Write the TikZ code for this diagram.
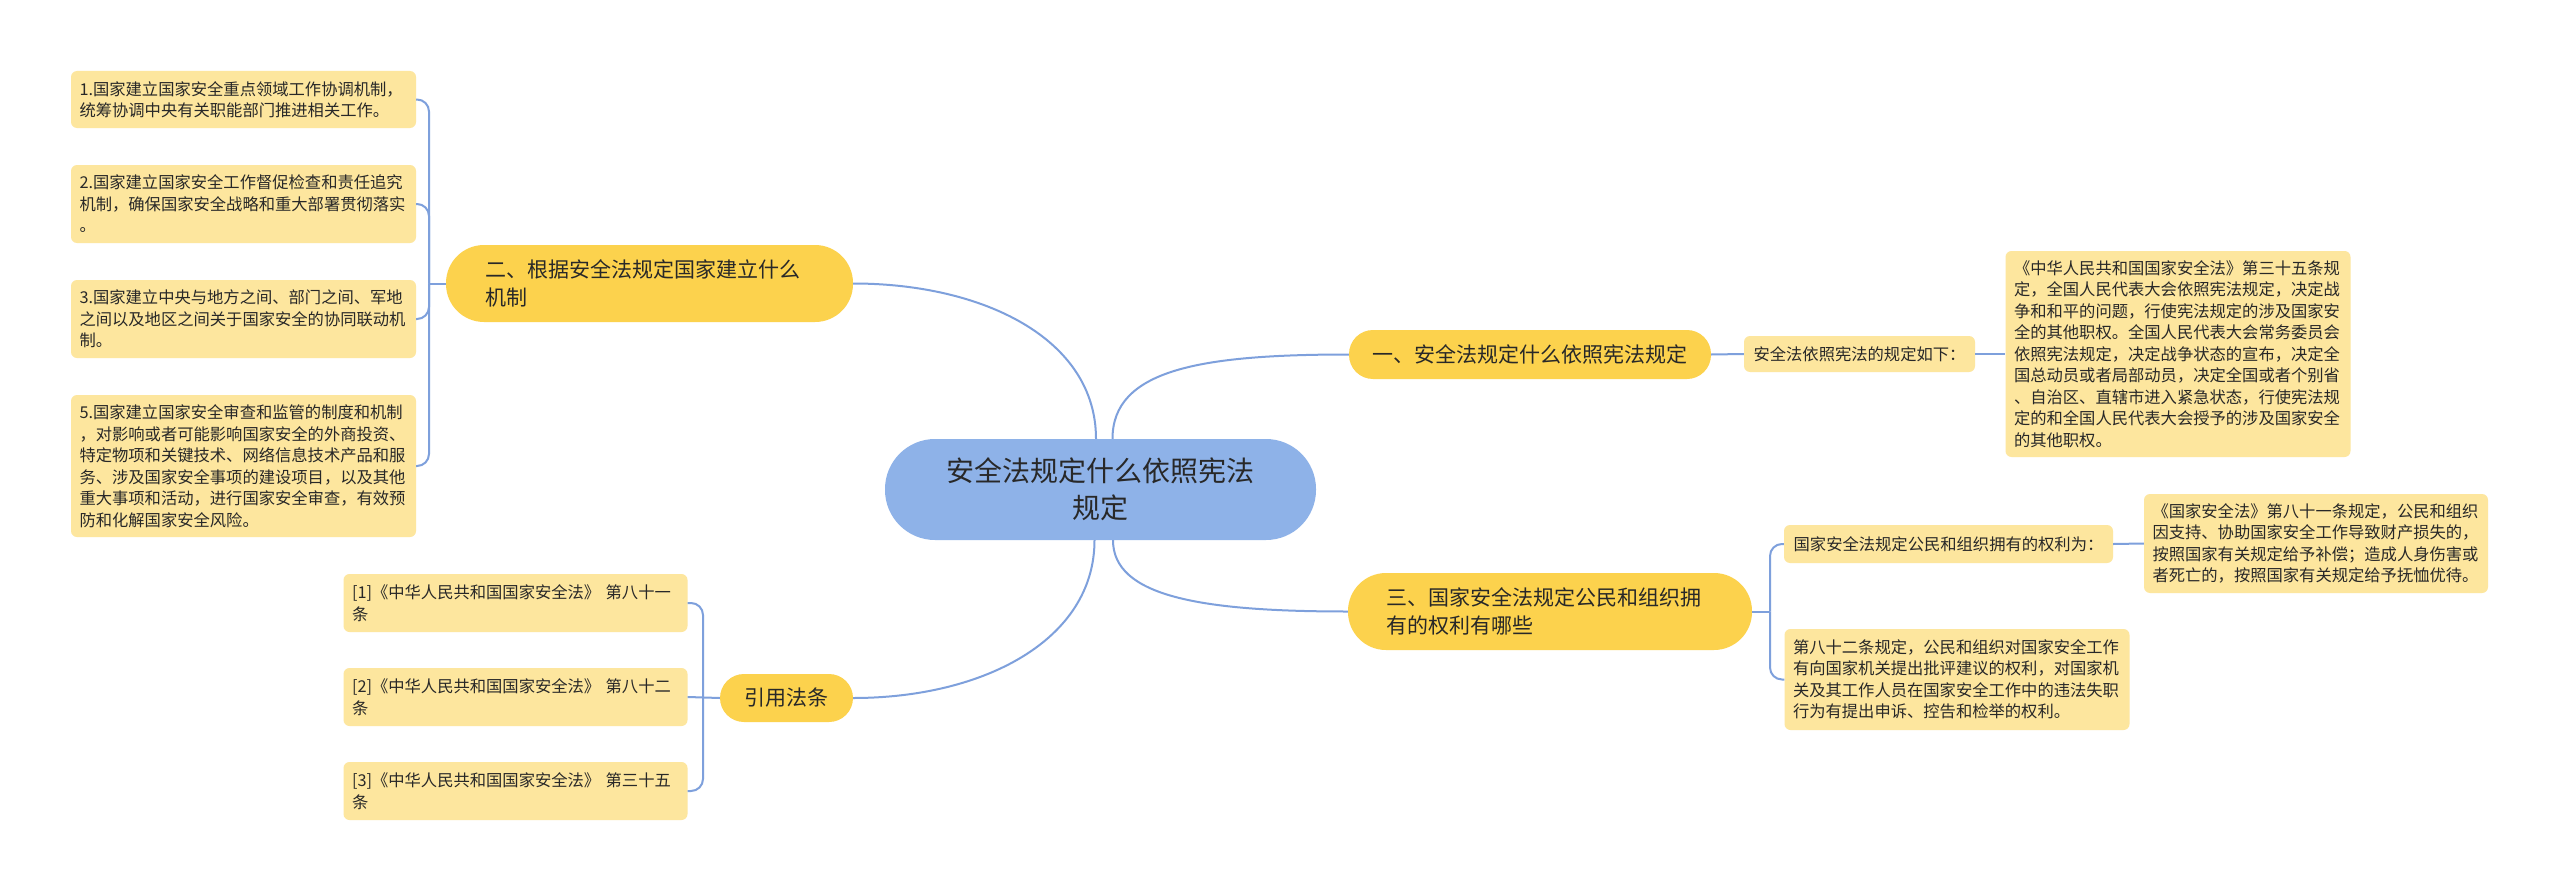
\documentclass[tikz,border=0pt]{standalone}
\usepackage{fontspec}
\setmainfont{Noto Sans CJK SC}
\usetikzlibrary{calc}
\definecolor{cfill}{RGB}{142,178,232}
\definecolor{bfill}{RGB}{252,210,77}
\definecolor{lfill}{RGB}{253,230,158}
\definecolor{lcol}{RGB}{126,160,220}
\definecolor{tcol}{RGB}{40,40,40}
\tikzset{
  conn/.style={draw=lcol, line width=2pt},
  leaf/.style={fill=lfill, rounded corners=6pt, inner xsep=8.5pt, inner ysep=0pt, align=left,
    font=\fontsize{16.3}{21.5}\selectfont, text=tcol},
  branch/.style={fill=bfill, inner ysep=0pt, text=tcol, font=\fontsize{21}{28}\selectfont},
  central/.style={fill=cfill, text=tcol, align=center, font=\fontsize{28}{37}\selectfont},
}
\begin{document}
\begin{tikzpicture}[x=1pt,y=-1pt]
\useasboundingbox (0,0) rectangle (2560,891);
\fill[white] (0,0) rectangle (2560,891);

% central
\node[central, minimum width=431, minimum height=101, rounded corners=50] (c) at (1100.5,489.5) {安全法规定什么依照宪法\\规定};

% branches
\node[branch, minimum width=362, minimum height=49, rounded corners=24] (b1) at (1530,354.5) {一、安全法规定什么依照宪法规定};
\node[branch, text width=329, inner xsep=39, align=left, minimum height=77, rounded corners=38] (b2) at (649.5,283.5) {二、根据安全法规定国家建立什么\\机制};
\node[branch, text width=328, inner xsep=38, align=left, minimum height=77, rounded corners=38] (b3) at (1550,611.5) {三、国家安全法规定公民和组织拥\\有的权利有哪些};
\node[branch, minimum width=133, minimum height=48, rounded corners=24] (r) at (786.5,698) {引用法条};

% left leaves
\node[leaf, text width=328, minimum height=57] (L1) at (243.5,99.5) {1.国家建立国家安全重点领域工作协调机制，\\统筹协调中央有关职能部门推进相关工作。};
\node[leaf, text width=328, minimum height=78] (L2) at (243.5,204) {2.国家建立国家安全工作督促检查和责任追究\\机制，确保国家安全战略和重大部署贯彻落实\\。};
\node[leaf, text width=328, minimum height=78] (L3) at (243.5,319) {3.国家建立中央与地方之间、部门之间、军地\\之间以及地区之间关于国家安全的协同联动机\\制。};
\node[leaf, text width=328, minimum height=142] (L5) at (243.5,466) {5.国家建立国家安全审查和监管的制度和机制\\，对影响或者可能影响国家安全的外商投资、\\特定物项和关键技术、网络信息技术产品和服\\务、涉及国家安全事项的建设项目，以及其他\\重大事项和活动，进行国家安全审查，有效预\\防和化解国家安全风险。};

% references
\node[leaf, text width=327, minimum height=58] (R1) at (515.5,603) {[1]《中华人民共和国国家安全法》 第八十一\\条};
\node[leaf, text width=327, minimum height=58] (R2) at (515.5,697) {[2]《中华人民共和国国家安全法》 第八十二\\条};
\node[leaf, text width=327, minimum height=58] (R3) at (515.5,791) {[3]《中华人民共和国国家安全法》 第三十五\\条};

% right leaves
\node[leaf, minimum width=231, minimum height=36] (a1) at (1859.5,354) {安全法依照宪法的规定如下：};
\node[leaf, text width=328, minimum height=206] (a2) at (2178,354) {《中华人民共和国国家安全法》第三十五条规\\定，全国人民代表大会依照宪法规定，决定战\\争和和平的问题，行使宪法规定的涉及国家安\\全的其他职权。全国人民代表大会常务委员会\\依照宪法规定，决定战争状态的宣布，决定全\\国总动员或者局部动员，决定全国或者个别省\\、自治区、直辖市进入紧急状态，行使宪法规\\定的和全国人民代表大会授予的涉及国家安全\\的其他职权。};
\node[leaf, minimum width=329, minimum height=38] (a3) at (1948.5,544) {国家安全法规定公民和组织拥有的权利为：};
\node[leaf, text width=328, minimum height=101] (a4) at (1957,679.5) {第八十二条规定，公民和组织对国家安全工作\\有向国家机关提出批评建议的权利，对国家机\\关及其工作人员在国家安全工作中的违法失职\\行为有提出申诉、控告和检举的权利。};
\node[leaf, text width=327, minimum height=99] (a5) at (2316,543.5) {《国家安全法》第八十一条规定，公民和组织\\因支持、协助国家安全工作导致财产损失的，\\按照国家有关规定给予补偿；造成人身伤害或\\者死亡的，按照国家有关规定给予抚恤优待。};

% central connectors
\coordinate (c1) at ($(c.north)+(12,0)$);
\coordinate (c2) at ($(c.north)+(-4.5,0)$);
\coordinate (c3) at ($(c.south)+(12.5,0)$);
\coordinate (c4) at ($(c.south)+(-6,0)$);
\draw[conn] (c1) .. controls ($(c1)+(0,-69)$) and ($(b1.west)+(-149,0)$) .. (b1.west);
\draw[conn] (c2) .. controls ($(c2)+(0,-100)$) and ($(b2.east)+(130,0)$) .. (b2.east);
\draw[conn] (c3) .. controls ($(c3)+(0,56)$) and ($(b3.west)+(-148,0)$) .. (b3.west);
\draw[conn] (c4) .. controls ($(c4)+(0,100)$) and ($(r.east)+(130,0)$) .. (r.east);

% b1 chain
\draw[conn] (b1.east) -- (a1.west);
\draw[conn] (a1.east) -- (a2.west);

% b2 bracket
\coordinate (j2) at (429,283.5);
\draw[conn] (b2.west) -- (j2);
\foreach \n in {L1,L2,L3,L5} \draw[conn, rounded corners=12] (j2) |- (\n.east);

% b3 bracket
\coordinate (j3) at (1770,611.5);
\draw[conn] (b3.east) -- (j3);
\draw[conn, rounded corners=12] (j3) |- (a3.west);
\draw[conn, rounded corners=12] (j3) |- (a4.west);
\draw[conn] (a3.east) -- (a5.west);

% reference bracket
\coordinate (jr) at (703,697);
\draw[conn] (r.west) -- (R2.east);
\draw[conn, rounded corners=12] (jr) |- (R1.east);
\draw[conn, rounded corners=12] (jr) |- (R3.east);
\end{tikzpicture}
\end{document}
